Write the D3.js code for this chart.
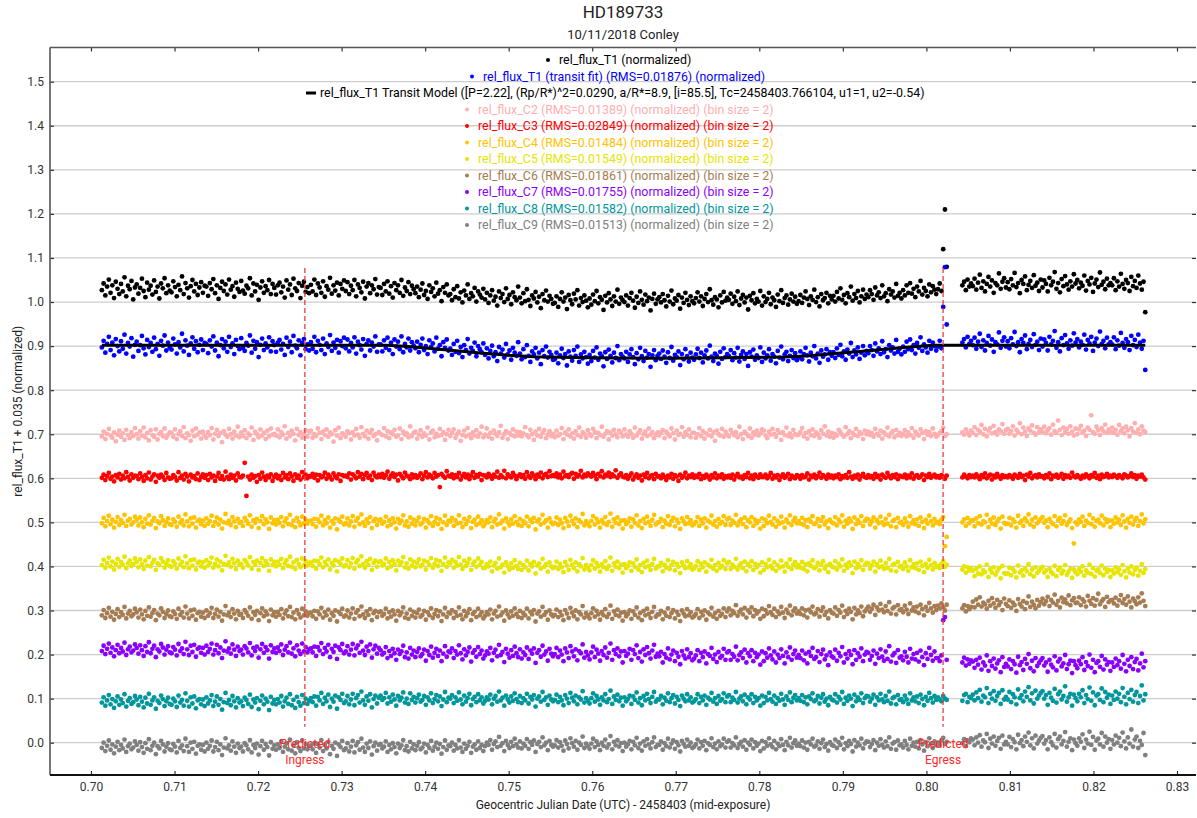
<!DOCTYPE html>
<html>
<head>
<meta charset="utf-8">
<title>HD189733</title>
<script src="https://cdn.jsdelivr.net/npm/d3@7"></script>
<style>
  body { margin: 0; background: #fff; }
  svg { font-family: Roboto, "Noto Sans", sans-serif; }
</style>
</head>
<body>
<div id="chart"></div>
<script>
// Exposures are evenly spaced between the first and last mid-exposure time (GJD - 2458403)
var firstExposure = 0.7013;
var lastExposure = 0.8262;

// Each series is stored as offsets in thousandths above its own baseline; null = no exposure
var t1Base = 0.98;
var t1Flux = [
  47,62,35,55,71,41,58,29,66,50,38,61,44,76,33,57,49,68,26,53,
  60,39,52,73,45,31,64,48,57,37,69,43,55,28,62,51,74,40,58,46,
  42,67,54,33,59,47,78,38,63,51,30,56,70,44,61,36,53,65,41,57,
  55,34,63,49,72,40,58,27,52,66,45,60,37,71,48,56,32,64,50,43,
  68,46,39,57,51,74,35,62,44,59,25,53,67,41,56,47,70,38,61,52,
  37,58,64,42,55,30,69,48,60,36,73,51,45,63,29,57,66,43,54,40,
  59,44,71,36,62,53,41,67,32,56,48,75,39,58,46,64,35,61,50,69,
  45,65,38,57,47,70,33,60,52,42,66,28,55,63,40,58,49,72,37,54,
  52,36,61,44,67,39,56,30,63,47,58,41,70,34,53,45,65,38,57,49,
  40,55,31,48,62,36,45,27,58,43,51,33,64,39,47,22,54,41,60,35,
  38,24,49,31,56,28,42,19,46,35,60,27,40,33,52,21,44,37,30,50,
  26,41,18,35,47,23,32,12,44,29,38,20,51,27,36,15,42,31,24,55,
  30,17,40,22,49,25,11,35,28,43,19,32,6,38,24,46,21,34,27,16,
  18,33,9,27,42,21,30,4,36,24,15,39,26,47,12,29,20,35,23,8,
  28,14,37,22,45,17,31,25,2,34,19,40,26,11,33,21,48,16,30,24,
  20,35,12,29,41,23,7,32,18,44,25,14,37,22,30,1,27,39,16,26,
  31,19,38,24,10,34,21,46,15,28,23,36,5,30,18,41,25,13,33,22,
  17,29,42,21,33,11,27,38,20,49,24,14,31,26,8,35,19,43,23,30,
  25,39,16,32,22,44,13,28,36,19,30,3,34,24,40,17,27,21,45,12,
  33,20,27,41,15,30,24,9,37,22,47,18,29,35,14,26,39,21,32,16,
  22,36,18,30,44,27,13,33,25,48,20,31,10,38,24,29,41,17,34,26,
  34,21,43,28,51,25,36,17,40,31,55,23,38,29,45,19,33,48,27,37,
  31,47,38,25,53,35,42,29,58,33,40,22,49,37,44,30,61,34,41,28,
  47,35,58,41,63,39,50,31,55,44,68,37,52,45,33,60,42,56,48,38,
  49,62,45,140,230,100,null,null,null,null,null,null,null,null,58,66,47,71,55,62,
  56,73,48,64,82,52,67,44,61,77,55,69,41,63,58,85,50,66,74,53,
  65,49,72,58,86,54,63,40,70,61,78,47,59,68,52,81,57,64,45,71,
  53,69,61,44,75,58,66,88,50,63,42,72,56,79,60,48,67,55,83,62,
  70,51,64,57,80,46,68,60,75,43,62,71,54,87,59,66,49,73,58,63,
  58,74,47,67,55,84,61,50,70,63,45,77,56,68,52,80,62,48,66,-3
];

var fitBase = 0.85;
var fitFlux = [
  47,62,35,55,71,41,58,29,66,50,38,61,44,76,33,57,49,68,26,53,
  60,39,52,73,45,31,64,48,57,37,69,43,55,28,62,51,74,40,58,46,
  42,67,54,33,59,47,78,38,63,51,30,56,70,44,61,36,53,65,41,57,
  55,34,63,49,72,40,58,27,52,66,45,60,37,71,48,56,32,64,50,43,
  68,46,39,57,51,74,35,62,44,59,25,53,67,41,56,47,70,38,61,52,
  37,58,64,42,55,30,69,48,60,36,73,51,45,63,29,57,66,43,54,40,
  59,44,71,36,62,53,41,67,32,56,48,75,39,58,46,64,35,61,50,69,
  45,65,38,57,47,70,33,60,52,42,66,28,55,63,40,58,49,72,37,54,
  54,38,63,46,69,41,58,32,65,49,60,43,72,36,55,47,67,40,59,51,
  45,60,36,53,67,41,50,32,63,48,56,38,69,44,52,27,59,46,65,40,
  44,30,55,37,62,34,48,25,52,41,66,33,46,39,58,27,50,43,36,56,
  30,45,22,39,51,27,36,16,48,33,42,24,55,31,40,19,46,35,28,59,
  33,20,43,25,52,28,14,38,31,46,22,35,9,41,27,49,24,37,30,19,
  20,35,11,29,44,23,32,6,38,26,17,41,28,49,14,31,22,37,25,10,
  30,16,39,24,47,19,33,27,4,36,21,42,28,13,35,23,50,18,32,26,
  22,37,14,31,43,25,9,34,20,46,27,16,39,24,32,3,29,41,18,28,
  33,21,40,26,12,36,23,48,17,30,25,38,7,32,20,43,27,15,35,24,
  19,31,44,23,35,13,29,40,22,51,26,16,33,28,10,37,21,45,25,32,
  27,41,18,34,24,46,15,30,38,21,32,5,36,26,42,19,29,23,47,14,
  35,22,29,43,17,32,26,11,39,24,49,20,31,37,16,28,41,23,34,18,
  24,38,20,32,46,29,15,35,27,50,22,33,12,40,26,31,43,19,36,28,
  36,23,45,30,53,27,38,19,42,33,57,25,40,31,47,21,35,50,29,39,
  34,50,41,28,56,38,45,32,61,36,43,25,52,40,47,33,64,37,44,31,
  49,37,60,43,65,41,52,33,57,46,70,39,54,47,35,62,44,58,50,40,
  49,62,45,139,229,99,null,null,null,null,null,null,null,null,58,66,47,71,55,62,
  52,69,44,60,78,48,63,40,57,73,51,65,37,59,54,81,46,62,70,49,
  61,45,68,54,82,50,59,36,66,57,74,43,55,64,48,77,53,60,41,67,
  49,65,57,40,71,54,62,84,46,59,38,68,52,75,56,44,63,51,79,58,
  66,47,60,53,76,42,64,56,71,39,58,67,50,83,55,62,45,69,54,59,
  54,70,43,63,51,80,57,46,66,59,41,73,52,64,48,76,58,44,62,-4
];

var c2Base = 0.67;
var c2Flux = [
  25,36,19,31,42,27,22,34,14,29,38,24,32,17,40,28,21,35,26,44,
  30,20,37,27,45,23,33,16,39,28,24,41,18,31,35,26,43,22,29,34,
  33,24,41,19,30,37,26,46,21,32,28,15,38,25,43,29,34,20,36,27,
  22,35,28,44,18,31,40,26,33,12,37,29,24,42,30,20,36,27,47,23,
  34,26,39,21,32,28,45,17,36,30,23,41,27,33,19,38,25,43,29,31,
  27,41,23,35,29,48,20,33,26,38,31,16,42,28,35,22,30,39,24,36,
  38,22,30,26,43,33,19,36,28,41,24,34,30,13,39,27,45,21,32,29,
  24,37,32,18,35,27,42,29,22,46,31,25,38,20,33,40,26,30,16,35,
  31,28,44,25,37,21,34,30,40,24,27,43,19,36,29,32,23,48,26,33,
  36,20,29,39,24,32,27,45,18,34,38,23,31,26,42,28,35,17,30,40,
  26,33,41,22,30,36,15,28,38,25,44,29,21,34,27,39,24,32,47,23,
  29,43,24,33,20,38,31,26,35,49,22,30,37,19,33,28,41,25,36,27,
  35,25,32,46,28,23,40,30,17,36,27,42,24,33,39,21,29,37,26,31,
  23,38,27,30,44,19,34,29,41,25,32,20,37,28,45,24,35,31,22,39,
  30,26,42,35,21,33,28,47,24,31,37,18,34,27,40,30,23,38,33,25,
  41,29,24,37,31,22,45,27,33,39,20,30,36,26,43,29,35,21,28,34,
  27,34,39,21,36,30,25,43,32,18,38,28,31,46,24,35,29,41,23,33,
  33,22,30,44,26,37,20,32,28,40,25,35,15,38,30,27,42,24,36,29,
  25,40,33,28,35,23,47,30,19,36,31,26,43,22,34,29,38,27,32,41,
  38,27,21,36,29,42,31,24,39,33,17,35,28,45,26,32,23,40,30,28,
  29,35,44,25,33,20,37,28,41,26,34,30,22,39,31,48,27,36,24,33,
  22,31,27,40,35,29,24,46,30,37,21,33,28,42,26,35,31,19,38,30,
  36,28,33,24,42,31,27,38,20,34,29,45,25,32,37,23,40,28,33,26,
  31,39,25,34,28,44,22,36,30,27,41,33,19,37,29,35,26,43,31,24,
  28,33,37,45,26,30,null,null,null,null,null,null,null,null,34,29,41,32,27,38,
  33,46,28,40,36,51,30,42,25,38,44,32,49,35,29,41,37,53,31,39,
  42,31,37,48,27,40,34,55,30,45,36,26,43,38,50,33,29,46,35,41,
  36,47,32,39,44,29,52,37,33,61,40,28,45,35,42,31,48,36,27,43,
  30,41,49,34,38,26,45,40,73,35,31,47,39,28,44,37,52,33,41,36,
  45,34,40,29,51,37,43,32,47,39,25,44,36,55,33,41,30,48,38,35
];

var c3Base = 0.55;
var c3Flux = [
  51,58,46,55,62,49,54,43,57,52,60,47,56,50,64,53,45,59,51,56,
  55,48,61,53,44,57,50,63,47,54,59,42,56,51,58,54,46,62,52,49,
  50,57,53,45,64,51,56,47,60,54,43,58,52,55,48,61,46,53,59,51,
  57,46,60,52,56,44,54,62,49,55,47,65,53,48,58,51,56,45,61,53,
  52,56,85,10,54,47,58,51,55,42,57,49,63,54,46,56,52,59,44,53,
  58,50,55,46,62,52,57,48,61,54,44,59,51,56,47,64,53,58,50,55,
  54,60,51,58,45,57,52,55,63,49,58,53,47,61,54,50,59,44,57,55,
  56,53,61,47,59,55,50,64,54,60,48,57,62,51,56,46,63,55,52,58,
  53,60,51,57,65,49,56,61,53,58,45,60,55,50,63,56,54,48,59,52,
  57,51,55,61,48,56,64,52,58,55,50,62,54,57,30,60,55,51,66,56,
  54,59,50,57,53,62,47,55,60,52,58,48,56,64,51,57,54,60,46,57,
  56,52,60,55,49,58,54,65,51,57,53,67,50,59,55,52,62,56,48,55,
  59,53,57,49,64,55,51,61,56,48,58,54,63,50,57,60,53,66,55,57,
  55,61,52,58,50,65,55,57,53,59,62,49,60,54,57,67,52,58,55,61,
  57,54,62,56,48,60,55,66,52,58,56,63,53,59,55,68,51,57,61,54,
  52,57,49,55,61,47,54,59,51,56,45,58,53,62,50,55,57,48,60,54,
  55,50,58,53,46,56,52,60,49,57,54,44,58,51,55,63,50,56,53,59,
  51,56,53,60,48,55,51,58,54,47,57,52,61,50,56,53,59,49,55,52,
  56,51,58,47,55,60,52,54,49,57,53,62,50,56,48,58,54,51,59,53,
  53,58,50,55,62,49,56,52,57,46,54,59,51,55,60,48,56,53,50,57,
  55,49,57,52,54,61,47,56,53,58,50,55,63,51,57,54,49,58,52,56,
  50,56,53,59,48,55,52,57,51,64,54,49,56,52,58,47,55,60,53,51,
  57,52,55,49,60,53,56,47,58,54,51,62,55,50,57,53,59,48,56,54,
  53,58,50,56,52,61,49,55,57,51,54,59,46,56,53,60,51,55,58,52,
  55,51,57,53,49,56,null,null,null,null,null,null,null,null,52,58,54,50,57,53,
  56,52,59,54,48,57,53,61,50,55,58,47,56,52,60,54,49,57,53,55,
  52,57,54,49,58,55,51,60,53,56,46,58,54,62,50,55,57,52,59,54,
  55,50,57,53,61,48,56,54,58,51,55,60,49,57,53,56,51,63,55,52,
  57,53,49,56,52,59,55,50,57,54,62,51,56,48,58,53,55,60,52,56,
  53,58,55,51,57,54,50,59,56,52,55,61,53,57,49,56,54,58,52,47
];

var c4Base = 0.47;
var c4Flux = [
  28,40,21,33,45,26,36,18,31,42,24,35,29,47,22,34,38,25,30,43,
  36,23,41,30,19,38,27,46,25,33,40,17,32,28,44,35,22,31,39,26,
  24,37,31,20,43,29,35,23,48,32,21,39,27,41,18,33,36,26,34,22,
  39,27,33,45,22,31,41,25,36,16,30,49,28,34,24,42,32,19,38,29,
  31,22,40,34,27,46,20,35,29,38,17,33,44,26,37,30,15,41,28,35,
  25,36,29,42,21,32,39,26,47,24,34,19,40,31,23,43,28,37,27,33,
  34,26,38,20,37,30,45,23,35,28,41,18,33,27,39,14,36,31,43,25,
  28,39,23,32,44,20,34,40,26,48,30,22,37,29,42,17,33,38,24,35,
  37,27,31,43,21,35,25,39,30,16,38,28,34,46,23,32,20,41,27,36,
  23,33,41,25,29,38,18,35,28,44,22,31,40,26,37,15,30,45,24,34,
  32,40,22,35,27,46,29,19,38,26,33,42,17,31,36,24,43,28,35,21,
  27,35,30,41,19,32,38,25,48,28,34,16,39,30,23,37,27,44,31,24,
  38,22,33,28,43,21,36,30,40,14,32,37,25,47,29,35,18,39,30,26,
  29,41,24,36,28,17,40,32,22,45,34,26,39,19,35,30,49,23,33,27,
  21,33,44,25,38,30,18,35,28,42,24,31,50,20,37,29,41,26,34,16,
  35,26,31,39,20,37,29,46,23,33,17,38,28,43,31,22,36,47,25,30,
  30,38,19,34,27,44,24,33,40,21,36,29,15,39,32,26,42,28,35,23,
  26,31,42,22,36,28,39,18,34,30,45,25,33,20,38,27,31,44,24,37,
  40,24,34,29,47,23,32,37,26,41,19,35,30,42,22,36,28,33,16,39,
  22,36,28,45,31,25,39,20,33,27,43,30,18,37,29,46,24,34,40,28,
  33,27,40,24,35,19,37,31,44,26,29,38,21,34,42,25,32,17,36,30,
  28,42,23,36,30,46,20,34,27,39,32,15,41,26,35,29,44,22,33,38,
  37,25,32,41,18,35,28,43,30,24,38,27,47,21,33,36,19,40,29,31,
  24,39,30,20,44,28,35,26,37,22,41,31,17,36,27,45,33,23,38,29,
  31,26,36,42,-24,-3,null,null,null,null,null,null,null,null,30,37,22,40,28,34,
  35,21,39,28,44,25,33,30,47,19,36,27,41,24,32,38,16,43,29,26,
  27,40,23,37,31,18,45,29,34,22,39,32,48,25,36,20,41,28,33,38,
  42,29,34,19,38,30,26,44,21,35,40,27,33,46,24,31,37,17,-18,30,
  25,37,31,43,22,34,29,47,26,39,20,33,36,28,45,23,38,30,35,19,
  34,27,41,30,36,24,46,32,18,38,29,43,25,35,40,22,33,48,28,37
];

var c5Base = 0.36;
var c5Flux = [
  43,55,37,48,60,40,51,33,46,57,39,50,44,62,36,47,53,41,45,58,
  50,38,56,45,34,53,42,61,40,48,55,32,47,43,59,51,37,46,54,41,
  39,52,46,35,58,44,50,38,63,47,36,54,42,56,33,48,51,40,49,37,
  54,42,48,60,37,46,56,40,51,31,45,64,43,49,39,57,47,34,53,44,
  46,37,55,49,42,61,35,50,44,53,32,48,59,41,52,45,30,56,43,50,
  40,51,44,57,36,47,54,41,62,39,49,34,55,46,38,58,43,52,42,48,
  49,41,53,35,52,45,60,38,50,43,56,33,48,42,54,29,51,46,58,40,
  43,54,38,47,59,35,49,55,41,63,45,37,52,44,57,32,48,53,39,50,
  52,42,46,58,36,50,40,54,45,31,53,43,49,61,38,47,35,56,42,51,
  38,48,56,40,44,53,33,50,43,59,37,46,55,41,52,30,45,60,39,49,
  47,55,37,50,42,61,44,34,53,41,48,57,32,46,51,39,58,43,50,36,
  37,45,40,51,29,42,48,35,58,38,44,26,49,40,33,47,37,54,41,34,
  48,32,43,38,53,31,46,40,50,24,42,47,35,57,39,45,28,49,40,36,
  39,51,34,46,38,27,50,42,32,55,44,36,49,29,45,40,59,33,43,37,
  31,43,54,35,48,40,28,45,38,52,34,41,60,30,47,39,51,36,44,26,
  45,36,41,49,30,47,39,56,33,43,27,48,38,53,41,32,46,57,35,40,
  40,48,29,44,37,54,34,43,50,31,46,39,25,49,42,36,52,38,45,33,
  36,41,52,32,46,38,49,28,44,40,55,35,43,30,48,37,41,54,34,47,
  50,34,44,39,57,33,42,47,36,51,29,45,40,52,32,46,38,43,26,49,
  32,46,38,55,41,35,49,30,43,37,53,40,28,47,39,56,34,44,50,38,
  43,37,50,34,45,29,47,41,54,36,39,48,31,44,52,35,42,27,46,40,
  38,52,33,46,40,56,30,44,37,49,42,25,51,36,45,39,54,32,43,48,
  47,35,42,51,28,45,38,53,40,34,48,37,57,31,43,46,29,50,39,41,
  34,49,40,30,54,38,45,36,47,32,51,41,27,46,37,55,43,33,48,39,
  41,36,46,52,39,44,null,null,null,null,null,null,null,null,33,40,26,38,31,36,
  30,18,35,24,40,22,31,27,44,16,33,26,38,21,29,36,13,41,25,23,
  24,37,20,34,28,15,42,26,31,19,36,29,45,22,33,17,38,25,30,35,
  39,26,31,16,35,27,23,41,18,32,37,24,30,43,21,28,34,14,33,27,
  22,34,28,40,19,31,26,44,23,36,17,30,33,25,42,20,35,27,32,16,
  31,24,38,27,33,21,43,29,15,35,26,40,22,32,37,19,30,45,25,34
];

var c6Base = 0.25;
var c6Flux = [
  39,51,33,44,56,36,47,29,42,53,35,46,40,58,32,43,49,37,41,54,
  46,34,52,41,30,49,38,57,36,44,51,28,43,39,55,47,33,42,50,37,
  35,48,42,31,54,40,46,34,59,43,32,50,38,52,29,44,47,36,45,33,
  50,38,44,56,33,42,52,36,47,27,41,60,39,45,35,53,43,30,49,40,
  42,33,51,45,38,57,31,46,40,49,28,44,55,37,48,41,26,52,39,46,
  36,47,40,53,32,43,50,37,58,35,45,30,51,42,34,54,39,48,38,44,
  45,37,49,31,48,41,56,34,46,39,52,29,44,38,50,25,47,42,54,36,
  39,50,34,43,55,31,45,51,37,59,41,33,48,40,53,28,44,49,35,46,
  48,38,42,54,32,46,36,50,41,27,49,39,45,57,34,43,31,52,38,47,
  34,44,52,36,40,49,29,46,39,55,33,42,51,37,48,26,41,56,35,45,
  43,51,33,46,38,57,40,30,49,37,44,53,28,42,47,35,54,39,46,32,
  38,46,41,52,30,43,49,36,59,39,45,27,50,41,34,48,38,55,42,35,
  49,33,44,39,54,32,47,41,51,25,43,48,36,58,40,46,29,50,41,37,
  40,52,35,47,39,28,51,43,33,56,45,37,50,30,46,41,60,34,44,38,
  32,44,55,36,49,41,29,46,39,53,35,42,61,31,48,40,52,37,45,27,
  46,37,42,50,31,48,40,57,34,44,28,49,39,54,42,33,47,58,36,41,
  41,49,30,45,38,55,35,44,51,32,47,40,26,50,43,37,53,39,46,34,
  37,42,53,33,47,39,50,29,45,41,56,36,44,31,49,38,42,55,35,48,
  55,39,49,44,62,38,47,52,41,56,34,50,45,57,37,51,43,48,31,54,
  37,51,43,60,46,40,54,35,48,42,58,45,33,52,44,61,39,49,55,43,
  48,42,55,39,50,34,52,46,59,41,44,53,36,49,57,40,47,32,51,45,
  43,57,38,51,45,61,35,49,42,54,47,30,56,41,50,44,59,37,48,53,
  59,47,54,63,40,57,50,65,52,46,60,49,69,43,55,58,41,62,51,53,
  46,61,52,42,66,50,57,48,59,44,63,53,39,58,49,67,55,45,60,51,
  61,55,66,57,50,63,null,null,null,null,null,null,null,null,55,62,48,60,53,58,
  70,57,75,63,80,59,68,64,54,72,61,78,66,56,74,62,69,51,77,65,
  60,73,56,68,62,49,76,65,59,71,53,67,82,58,70,63,55,74,61,69,
  77,64,71,81,60,74,68,86,63,72,57,79,69,75,66,84,62,73,78,67,
  68,80,62,75,70,59,83,72,65,78,61,74,88,64,71,76,58,81,69,73,
  74,66,79,61,73,85,67,76,63,82,70,57,77,71,64,80,68,89,72,60
];

var c7Base = 0.13;
var c7Flux = [
  78,90,71,83,95,74,86,66,80,92,73,85,77,97,69,82,88,75,79,93,
  85,72,91,80,67,89,76,98,73,83,90,64,82,77,94,86,70,81,89,75,
  73,87,81,68,94,78,84,71,99,82,69,90,76,92,65,83,86,74,85,70,
  90,76,83,95,70,80,92,73,86,62,79,100,77,84,72,93,81,67,88,78,
  81,70,89,84,75,96,68,85,78,88,63,82,94,74,87,80,61,91,76,84,
  74,86,78,93,69,81,89,75,97,72,84,66,91,79,71,95,77,87,75,82,
  84,75,88,67,87,79,96,71,85,77,92,64,83,76,90,60,86,80,94,73,
  77,89,70,81,94,68,84,91,74,99,79,69,88,78,93,63,82,90,72,85,
  80,70,74,87,62,78,67,83,73,58,81,71,77,90,64,75,61,85,70,79,
  64,76,84,66,71,81,56,78,69,88,63,74,83,67,79,55,72,89,65,77,
  75,84,62,78,70,91,73,59,82,68,76,86,54,74,80,65,87,71,79,61,
  68,77,72,85,57,74,81,66,92,69,76,53,83,72,63,80,67,88,73,64,
  82,61,75,69,86,60,79,72,84,51,74,80,65,90,70,77,56,83,72,66,
  71,85,64,79,70,55,84,75,62,89,77,66,82,57,78,73,93,63,76,68,
  59,75,88,64,81,72,56,78,69,86,63,74,95,58,80,71,84,66,77,52,
  78,67,72,83,58,80,71,91,62,76,54,82,69,87,73,61,79,92,65,72,
  66,76,52,71,63,84,59,70,79,55,74,65,48,78,68,61,82,64,73,57,
  61,68,80,55,74,64,77,50,71,67,85,60,70,53,76,63,67,83,58,75,
  78,58,71,65,88,57,69,75,62,81,52,73,66,80,55,74,64,70,47,77,
  55,73,63,84,68,59,77,52,70,62,82,67,50,75,64,86,58,71,79,63,
  69,62,79,57,72,50,76,67,85,60,64,78,53,71,81,59,68,46,75,66,
  63,81,56,74,66,87,52,71,61,78,69,48,80,58,73,65,84,55,70,76,
  74,58,67,79,49,72,62,82,65,56,77,60,89,54,68,73,51,80,63,66,
  57,76,65,52,83,61,71,59,74,54,79,64,46,73,60,85,69,56,77,62,
  62,55,68,148,155,58,null,null,null,null,null,null,null,null,52,63,45,59,49,57,
  54,40,58,47,63,36,52,45,68,33,55,44,61,38,50,57,30,64,42,49,
  43,59,37,55,48,29,65,46,53,35,60,49,71,39,56,32,62,44,51,57,
  62,45,52,31,58,47,41,66,34,54,60,43,50,69,37,48,56,28,55,46,
  39,56,48,64,35,53,44,70,40,58,30,51,55,42,67,36,59,47,53,33,
  52,42,61,46,55,38,69,49,32,58,44,64,37,53,60,34,50,72,41,55
];

var c8Base = 0.04;
var c8Flux = [
  51,63,44,56,68,47,59,39,54,65,46,58,50,70,42,55,61,48,52,66,
  58,45,64,53,40,62,49,71,46,56,63,37,55,50,67,59,43,54,62,48,
  46,60,54,41,67,51,57,44,72,55,42,63,49,65,38,56,59,47,58,43,
  63,49,56,68,43,53,65,46,59,35,52,73,50,57,45,66,54,40,61,51,
  54,43,62,57,48,69,41,58,51,61,36,55,67,47,60,53,34,64,49,57,
  47,59,51,66,42,54,62,48,70,45,57,39,64,52,44,68,50,60,48,55,
  61,52,65,44,64,56,73,48,62,54,69,41,60,53,67,37,63,57,71,50,
  54,66,47,58,71,45,61,68,51,76,56,46,65,55,70,40,59,67,49,62,
  67,57,61,73,49,63,53,69,58,44,66,56,62,74,51,60,48,72,57,64,
  51,61,69,53,57,66,46,63,56,72,50,59,68,54,65,43,58,75,52,62,
  60,68,50,63,55,74,58,47,67,53,61,71,45,59,64,52,70,56,63,49,
  55,63,58,69,47,60,66,53,76,56,62,44,67,58,51,65,55,72,59,52,
  66,50,61,56,71,49,64,58,68,42,60,65,53,75,57,63,46,67,58,54,
  57,69,52,64,56,45,68,60,50,73,62,54,67,47,63,58,77,51,61,55,
  49,61,72,53,66,58,46,63,56,70,52,59,78,48,65,57,69,54,62,44,
  63,54,59,67,48,65,57,74,51,61,45,66,56,71,59,50,64,75,53,58,
  58,66,47,62,55,72,52,61,68,49,64,57,43,67,60,54,70,56,63,51,
  54,59,70,50,64,56,67,46,62,58,73,53,61,48,66,55,59,72,52,65,
  68,52,62,57,75,51,60,65,54,69,47,63,58,70,50,64,56,61,44,67,
  50,64,56,73,59,53,67,48,61,55,71,58,46,65,57,74,52,62,68,56,
  61,55,68,52,63,47,65,59,72,54,57,66,49,62,70,53,60,45,64,58,
  56,70,51,64,58,75,48,62,55,67,60,43,69,54,63,57,72,50,61,66,
  65,53,60,69,46,63,56,71,58,52,66,55,76,49,61,64,47,68,57,59,
  52,67,58,48,72,56,63,54,65,50,69,59,45,64,55,73,61,51,66,57,
  63,58,54,66,60,57,null,null,null,null,null,null,null,null,55,68,71,52,64,61,
  69,56,74,61,80,53,67,63,84,50,71,60,77,55,66,73,48,79,58,64,
  58,75,52,70,63,47,81,61,68,54,76,64,86,56,72,49,78,60,67,73,
  77,60,68,46,73,62,55,82,51,70,76,58,66,88,53,63,71,44,69,61,
  54,71,63,79,50,68,59,85,55,74,45,67,70,57,83,52,75,62,69,48,
  67,57,76,60,71,52,84,64,47,73,59,80,53,68,75,50,66,90,56,70
];

var c9Base = -0.05;
var c9Flux = [
  38,50,31,43,55,34,46,26,41,52,33,45,37,57,29,42,48,35,39,53,
  45,32,51,40,27,49,36,58,33,43,50,24,42,37,54,46,30,41,49,35,
  33,47,41,28,54,38,44,31,59,42,29,50,36,52,25,43,46,34,45,30,
  50,36,43,55,30,40,52,33,46,22,39,60,37,44,32,53,41,27,48,38,
  41,30,49,44,35,56,28,45,38,48,23,42,54,34,47,40,21,51,36,44,
  34,46,38,53,29,41,49,35,57,32,44,26,51,39,31,55,37,47,35,42,
  44,35,48,27,47,39,56,31,45,37,52,24,43,36,50,20,46,40,54,33,
  37,49,30,41,54,28,44,51,34,59,39,29,48,38,53,23,42,50,32,45,
  47,37,41,53,29,45,35,49,40,26,48,38,44,56,33,42,30,52,37,46,
  33,43,51,35,39,48,28,45,38,54,32,41,50,36,47,25,40,55,34,44,
  42,50,32,45,37,56,39,29,48,36,43,52,27,41,46,34,53,38,45,31,
  42,50,45,56,34,47,53,40,63,43,49,31,54,45,38,52,42,59,46,39,
  53,37,48,43,58,36,51,45,55,29,47,52,40,62,44,50,33,54,45,41,
  44,56,39,51,43,32,55,47,37,60,49,41,54,34,50,45,64,38,48,42,
  36,48,59,40,53,45,33,50,43,57,39,46,65,35,52,44,56,41,49,31,
  50,41,46,54,35,52,44,61,38,48,32,53,43,58,46,37,51,62,40,45,
  45,53,34,49,42,59,39,48,55,36,51,44,30,54,47,41,57,43,50,38,
  41,46,57,37,51,43,54,33,49,45,60,40,48,35,53,42,46,59,39,52,
  55,39,49,44,62,38,47,52,41,56,34,50,45,57,37,51,43,48,31,54,
  37,51,43,60,46,40,54,35,48,42,58,45,33,52,44,61,39,49,55,43,
  48,42,55,39,50,34,52,46,59,41,44,53,36,49,57,40,47,32,51,45,
  43,57,38,51,45,61,35,49,42,54,47,30,56,41,50,44,59,37,48,53,
  52,40,47,56,33,50,43,58,45,39,53,42,62,36,48,51,34,55,44,46,
  39,54,45,35,59,43,50,41,52,37,56,46,32,51,42,60,48,38,53,44,
  50,45,55,61,47,52,null,null,null,null,null,null,null,null,49,58,42,55,51,60,
  57,44,62,50,67,41,55,51,70,38,59,48,64,43,54,61,36,66,46,52,
  46,63,40,58,51,35,68,49,56,42,64,52,73,44,60,37,66,48,55,61,
  65,48,56,35,62,51,44,70,39,58,64,46,54,74,41,52,60,33,57,49,
  43,60,52,69,38,57,48,75,45,63,34,55,59,46,72,41,64,50,58,36,
  56,46,66,50,61,42,73,53,37,62,48,80,41,57,64,38,54,45,72,22
];

// transit model curve (time, relative flux)
var modelTimes = [0.7013, 0.7354, 0.7380, 0.7410, 0.7440, 0.7470, 0.7500, 0.7530, 0.7580, 0.7630, 0.7681,
                  0.7730, 0.7780, 0.7830, 0.7860, 0.7890, 0.7920, 0.7950, 0.7980, 0.8008, 0.8262];
var modelFlux = [0.902, 0.902, 0.899, 0.894, 0.889, 0.884, 0.879, 0.876, 0.874, 0.873, 0.8725,
                 0.873, 0.874, 0.875, 0.878, 0.883, 0.888, 0.893, 0.898, 0.902, 0.902];

// predicted ingress / egress times
var predictedTimes = [0.7256, 0.8020];
var predictedNames = ["Ingress", "Egress"];

var xTicks = [0.70, 0.71, 0.72, 0.73, 0.74, 0.75, 0.76, 0.77, 0.78, 0.79, 0.80, 0.81, 0.82, 0.83];
var yTicks = [0.0, 0.1, 0.2, 0.3, 0.4, 0.5, 0.6, 0.7, 0.8, 0.9, 1.0, 1.1, 1.2, 1.3, 1.4, 1.5];

var legendLabels = [
  "rel_flux_T1 (normalized)",
  "rel_flux_T1 (transit fit) (RMS=0.01876) (normalized)",
  "rel_flux_T1 Transit Model ([P=2.22], (Rp/R*)^2=0.0290, a/R*=8.9, [i=85.5], Tc=2458403.766104, u1=1, u2=-0.54)",
  "rel_flux_C2 (RMS=0.01389) (normalized) (bin size = 2)",
  "rel_flux_C3 (RMS=0.02849) (normalized) (bin size = 2)",
  "rel_flux_C4 (RMS=0.01484) (normalized) (bin size = 2)",
  "rel_flux_C5 (RMS=0.01549) (normalized) (bin size = 2)",
  "rel_flux_C6 (RMS=0.01861) (normalized) (bin size = 2)",
  "rel_flux_C7 (RMS=0.01755) (normalized) (bin size = 2)",
  "rel_flux_C8 (RMS=0.01582) (normalized) (bin size = 2)",
  "rel_flux_C9 (RMS=0.01513) (normalized) (bin size = 2)"
];

// series drawn as dots
var series = [
  { base: t1Base, values: t1Flux, color: "#000000" },
  { base: fitBase, values: fitFlux, color: "#0000ff" },
  { base: c2Base, values: c2Flux, color: "#ffafaf" },
  { base: c3Base, values: c3Flux, color: "#ff0000" },
  { base: c4Base, values: c4Flux, color: "#ffc400" },
  { base: c5Base, values: c5Flux, color: "#e6e600" },
  { base: c6Base, values: c6Flux, color: "#a67c52" },
  { base: c7Base, values: c7Flux, color: "#8a00ff" },
  { base: c8Base, values: c8Flux, color: "#00979c" },
  { base: c9Base, values: c9Flux, color: "#808080" }
];

var legendColors = ["#000000", "#0000ff", "#000000", "#ffafaf", "#ff0000", "#ffc400", "#e6e600",
                    "#a67c52", "#8a00ff", "#00979c", "#808080"];
var legendTextX = [559, 483, 320, 478, 478, 478, 478, 478, 478, 478, 478];

var width = 1197, height = 818;
var plotLeft = 50, plotRight = 1196, plotTop = 47.5, plotBottom = 775;

var svg = d3.select("#chart").append("svg")
    .attr("width", width)
    .attr("height", height);

var x = d3.scaleLinear().domain([0.695092, 0.832274]).range([plotLeft, plotRight]);
var y = d3.scaleLinear().domain([-0.0733, 1.5776]).range([plotBottom, plotTop]);

// horizontal grid lines
svg.append("g").selectAll("line")
    .data(yTicks)
    .enter()
    .append("line")
    .attr("x1", plotLeft).attr("x2", plotRight)
    .attr("y1", function(d) { return y(d); })
    .attr("y2", function(d) { return y(d); })
    .attr("stroke", "#cdcdcd")
    .attr("stroke-width", 1.3);

// axes (ticks point into the plot)
var yAxis = svg.append("g")
    .attr("transform", "translate(" + plotLeft + ",0)")
    .call(d3.axisLeft(y).tickValues(yTicks).tickFormat(d3.format(".1f")).tickSize(-4).tickPadding(6));
var xAxis = svg.append("g")
    .attr("transform", "translate(0," + plotBottom + ")")
    .call(d3.axisBottom(x).tickValues(xTicks).tickFormat(d3.format(".2f")).tickSize(-4).tickPadding(7));
var topAxis = svg.append("g")
    .attr("transform", "translate(0," + plotTop + ")")
    .call(d3.axisTop(x).tickValues(xTicks).tickFormat("").tickSize(-4));
var rightAxis = svg.append("g")
    .attr("transform", "translate(" + plotRight + ",0)")
    .call(d3.axisRight(y).tickValues(yTicks).tickFormat("").tickSize(-4));

[yAxis, xAxis, topAxis, rightAxis].forEach(function(a) {
    a.select(".domain").remove();
    a.selectAll("line").attr("stroke", "#333").attr("stroke-width", 1.2);
    a.selectAll("text")
        .attr("fill", "#333")
        .style("font-size", "12px")
        .style("font-family", "Roboto, 'Noto Sans', sans-serif");
});

// frame
svg.append("line").attr("x1", plotLeft).attr("x2", plotLeft).attr("y1", plotTop).attr("y2", plotBottom)
    .attr("stroke", "#555").attr("stroke-width", 1.6);
svg.append("line").attr("x1", plotLeft).attr("x2", plotRight).attr("y1", plotTop).attr("y2", plotTop)
    .attr("stroke", "#555").attr("stroke-width", 1.6);
svg.append("line").attr("x1", plotLeft).attr("x2", plotRight).attr("y1", plotBottom).attr("y2", plotBottom)
    .attr("stroke", "#111").attr("stroke-width", 1.8);

// measurement dots
series.forEach(function(s) {
    var n = s.values.length;
    var step = (lastExposure - firstExposure) / (n - 1);
    var pts = [];
    s.values.forEach(function(v, i) {
        if (v !== null) pts.push({ t: firstExposure + i * step, f: s.base + v / 1000 });
    });
    svg.append("g").selectAll("circle")
        .data(pts)
        .enter()
        .append("circle")
        .attr("cx", function(d) { return x(d.t); })
        .attr("cy", function(d) { return y(d.f); })
        .attr("r", 2.4)
        .attr("fill", s.color);
});

// transit model
var modelPts = modelTimes.map(function(t, i) { return [t, modelFlux[i]]; });
svg.append("path")
    .datum(modelPts)
    .attr("d", d3.line().x(function(d) { return x(d[0]); }).y(function(d) { return y(d[1]); }))
    .attr("fill", "none")
    .attr("stroke", "#000")
    .attr("stroke-width", 3);

// predicted ingress / egress markers
predictedTimes.forEach(function(t, i) {
    svg.append("line")
        .attr("x1", x(t)).attr("x2", x(t))
        .attr("y1", y(1.077)).attr("y2", y(0.036))
        .attr("stroke", "#ee3b3b")
        .attr("stroke-width", 1.3)
        .attr("stroke-dasharray", "5,3");
    var lbl = svg.append("text")
        .attr("text-anchor", "middle")
        .attr("fill", "#ff2a2a")
        .style("font-size", "12px");
    lbl.append("tspan").attr("x", x(t)).attr("y", 748).text("Predicted");
    lbl.append("tspan").attr("x", x(t)).attr("y", 764).text(predictedNames[i]);
});

// legend
legendLabels.forEach(function(label, i) {
    var rowY = 60 + i * 16.5;
    var tx = legendTextX[i];
    if (i === 2) {
        svg.append("line")
            .attr("x1", tx - 14).attr("x2", tx - 4)
            .attr("y1", rowY).attr("y2", rowY)
            .attr("stroke", "#000").attr("stroke-width", 3);
    } else {
        svg.append("circle")
            .attr("cx", tx - 11).attr("cy", rowY)
            .attr("r", 2)
            .attr("fill", legendColors[i]);
    }
    svg.append("text")
        .attr("x", tx).attr("y", rowY + 4.3)
        .attr("fill", legendColors[i])
        .style("font-size", "12.4px")
        .text(label);
});

// titles
svg.append("text")
    .attr("x", 623).attr("y", 18)
    .attr("text-anchor", "middle")
    .attr("fill", "#222")
    .style("font-size", "17px")
    .text("HD189733");
svg.append("text")
    .attr("x", 623).attr("y", 39)
    .attr("text-anchor", "middle")
    .attr("fill", "#222")
    .style("font-size", "13px")
    .text("10/11/2018 Conley");

svg.append("text")
    .attr("x", (plotLeft + plotRight) / 2).attr("y", 809)
    .attr("text-anchor", "middle")
    .attr("fill", "#222")
    .style("font-size", "12px")
    .text("Geocentric Julian Date (UTC) - 2458403 (mid-exposure)");

svg.append("text")
    .attr("transform", "translate(22," + ((plotTop + plotBottom) / 2) + ") rotate(-90)")
    .attr("text-anchor", "middle")
    .attr("fill", "#222")
    .style("font-size", "12px")
    .text("rel_flux_T1 + 0.035 (normalized)");
</script>
</body>
</html>
